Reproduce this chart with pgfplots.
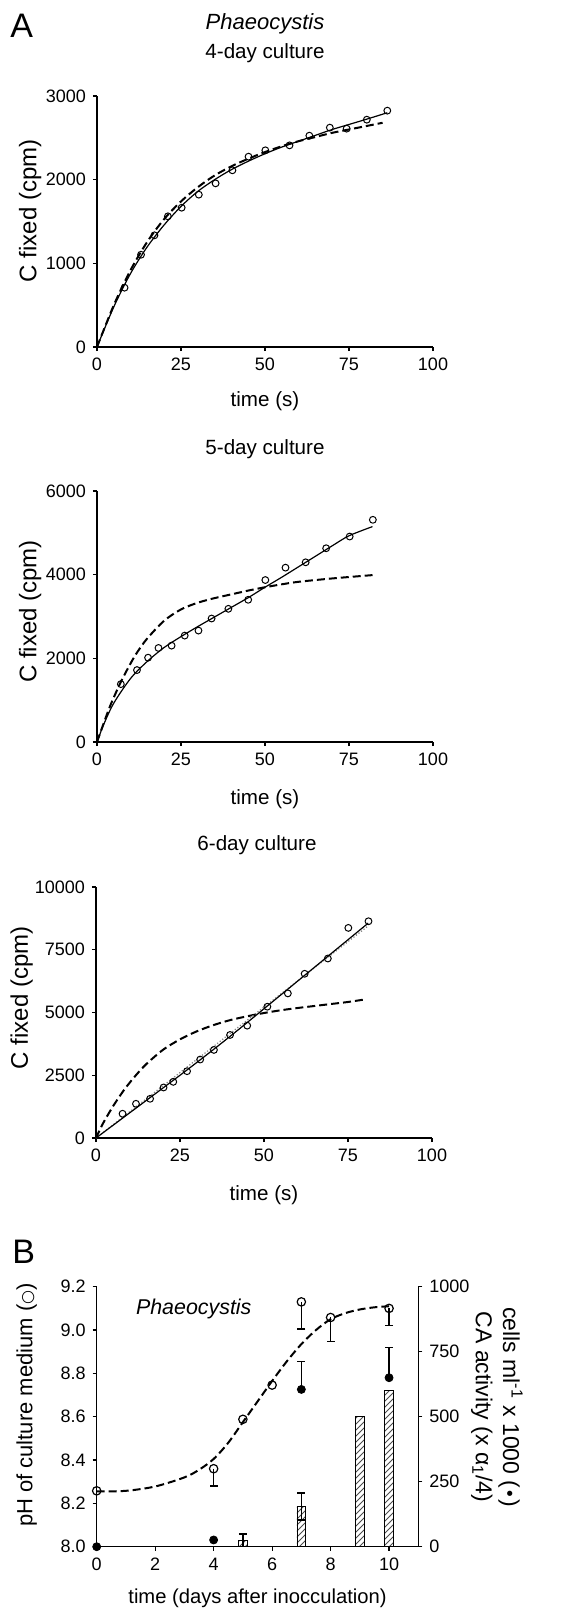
\documentclass[border=0pt]{standalone}
\usepackage{fontspec}
\setmainfont{Liberation Sans}
\newfontfamily\dv{DejaVu Sans}
\usepackage{pgfplots}
\pgfplotsset{compat=1.18}
\usetikzlibrary{patterns}

\pgfplotsset{
  base/.style={
    scale only axis, anchor=south west,
    axis line style={-, line width=0.6pt},
    tick style={line width=0.6pt, black},
    tick align=outside, major tick length=2pt,
    ticklabel style={font=\fontsize{9}{10}\selectfont},
    /pgf/number format/assume math mode=true,
    /pgf/number format/set thousands separator={},
    scaled y ticks=false, scaled x ticks=false,
    xlabel style={anchor=base, font=\fontsize{10.3}{12}\selectfont},
    ylabel style={anchor=center, font=\fontsize{12}{14}\selectfont},
  },
  panelA/.style={
    base, axis x line*=bottom, axis y line*=left, width=168pt, height=125.5pt,
    xmin=0, xmax=100, xtick={0,25,50,75,100}, ymin=0,
    xlabel={time (s)}, ylabel={C fixed (cpm)},
  },
  pts/.style={only marks, mark=o, mark size=1.7pt, mark options={fill=white, line width=0.5pt}, black},
  fit/.style={black, line width=0.6pt, smooth},
  fitd/.style={black, line width=1pt, dash pattern=on 4pt off 2pt, smooth},
}

\begin{document}
\begin{tikzpicture}
\useasboundingbox (0pt,0pt) rectangle (291pt,-806pt);

% ---- panel A, 4-day
\node[anchor=base west, inner sep=0pt, font=\fontsize{17}{19}\selectfont] at (5pt,-18.5pt) {A};
\node[anchor=base, font=\fontsize{11}{13}\selectfont\itshape] at (132.5pt,-14.5pt) {Phaeocystis};
\node[anchor=base, font=\fontsize{10.3}{12}\selectfont] at (132.5pt,-29pt) {4-day culture};
\begin{axis}[panelA, at={(48.5pt,-173.5pt)}, ymax=3000, ytick={0,1000,2000,3000},
  xlabel style={at={(axis description cs:0.5,-0.239)}},
  ylabel style={at={(axis description cs:-0.199,0.542)}}]
  \addplot[fitd] coordinates {
    (0,0) (5,500) (10,920) (15,1260) (20,1530) (25,1740) (30,1910) (35,2050)
    (40,2160) (45,2250) (50,2330) (55,2400) (60,2460) (65,2510) (70,2560)
    (75,2600) (80,2640) (85,2680)
  };
  \addplot[fit] coordinates {
    (0,0) (5,480) (10,880) (15,1200) (20,1460) (25,1680) (30,1860) (35,2000)
    (40,2120) (45,2220) (50,2310) (55,2390) (60,2460) (65,2530) (70,2600)
    (75,2660) (80,2720) (86.4,2800)
  };
  \addplot[pts] coordinates {
    (8.2,709) (13.1,1103) (17.1,1335) (21.1,1562) (25.2,1665) (30.3,1821)
    (35.3,1956) (40.3,2112) (45.1,2275) (50.1,2351) (57.3,2410) (63.2,2526)
    (69.3,2622) (74.3,2610) (80.3,2717) (86.4,2825)
  };
\end{axis}

% ---- panel A, 5-day
\node[anchor=base, font=\fontsize{10.3}{12}\selectfont] at (132.5pt,-227pt) {5-day culture};
\begin{axis}[panelA, at={(48.5pt,-371pt)}, ymax=6000, ytick={0,2000,4000,6000},
  xlabel style={at={(axis description cs:0.5,-0.248)}},
  ylabel style={at={(axis description cs:-0.199,0.52)}}]
  \addplot[fitd] coordinates {
    (0,0) (2,450) (4,880) (7,1420) (10,1880) (12,2150) (15,2480) (20,2900)
    (25,3170) (30,3330) (35,3440) (40,3530) (45,3620) (50,3700) (55,3770)
    (60,3830) (70,3910) (82,3990)
  };
  \addplot[fit] coordinates {
    (0,0) (2,420) (5,930) (10,1520) (15,1930) (20,2260) (25,2520) (30,2760)
    (35,2990) (40,3220) (45,3450) (50,3700) (55,3940) (60,4190) (65,4440)
    (70,4690) (75,4930) (82,5150)
  };
  \addplot[pts] coordinates {
    (7.1,1384) (11.9,1720) (15.2,2016) (18.3,2248) (22.2,2304) (26.1,2544)
    (30.2,2664) (34.1,2952) (39.1,3184) (45.0,3400) (50.1,3872) (56.1,4168)
    (62.1,4296) (68.2,4632) (75.2,4912) (82.1,5312)
  };
\end{axis}

% ---- panel A, 6-day
\node[anchor=base, font=\fontsize{10.3}{12}\selectfont] at (128.5pt,-425pt) {6-day culture};
\begin{axis}[panelA, at={(48pt,-569pt)}, ymax=10000, ytick={0,2500,5000,7500,10000},
  xlabel style={at={(axis description cs:0.5,-0.247)}},
  ylabel style={at={(axis description cs:-0.221,0.558)}}]
  \addplot[fitd] coordinates {
    (0,0) (2,560) (5,1250) (8,1850) (10,2200) (12,2520) (15,2950) (20,3520)
    (25,3930) (30,4250) (35,4500) (40,4700) (45,4850) (50,4980) (55,5090)
    (60,5180) (65,5260) (70,5340) (75,5420) (80,5520)
  };
  \addplot[gray, line width=0.6pt, densely dotted] coordinates {(0,0) (81,8450)};
  \addplot[fit] coordinates {
    (0,0) (5,500) (10,1000) (15,1500) (20,2000) (25,2500) (30,3010) (35,3530)
    (40,4060) (45,4600) (50,5150) (55,5700) (60,6250) (65,6800) (70,7350)
    (75,7900) (81,8560)
  };
  \addplot[pts] coordinates {
    (7.9,967) (11.9,1364) (16.1,1563) (20.1,2013) (23.0,2238) (27.1,2662)
    (31.0,3126) (35.1,3510) (39.9,4106) (45.0,4477) (51.0,5232) (57.1,5762)
    (62.1,6543) (69.0,7152) (75.1,8371) (81.1,8636)
  };
\end{axis}

% ---- panel B
\node[anchor=base west, inner sep=0pt, font=\fontsize{17}{19}\selectfont] at (6pt,-631.5pt) {B};
\begin{axis}[base, at={(48.35pt,-773.35pt)}, width=160.8pt, height=130pt,
  xmin=0, xmax=11, ymin=0, ymax=1000,
  axis x line=none, axis y line*=right,
  ytick={0,250,500,750,1000}]
  \addplot[ybar, bar shift=0pt, bar width=4.4pt, draw=black, line width=0.4pt,
    pattern=north east lines, pattern color=black!70,
    error bars/.cd, y dir=both, y explicit,
    error bar style={line width=0.7pt},
    error mark options={rotate=90, mark size=2pt, line width=0.7pt}]
    coordinates {(5,23) +- (0,26) (7,154) +- (0,52)};
  \addplot[ybar, bar shift=0pt, bar width=4.4pt, draw=black, line width=0.4pt,
    pattern=north east lines, pattern color=black!70]
    coordinates {(9,502) (10,600)};
  \addplot[only marks, mark=*, mark size=2pt, black,
    error bars/.cd, y dir=plus, y explicit,
    error bar style={line width=0.7pt},
    error mark options={rotate=90, mark size=2pt, line width=0.7pt}]
    coordinates {(7,605) += (0,108) (10,650) += (0,117)};
  \addplot[only marks, mark=*, mark size=2pt, black] coordinates {(0,0) (4,26)};
\end{axis}
\begin{axis}[base, at={(48.35pt,-773.35pt)}, width=160.8pt, height=130pt,
  xmin=0, xmax=11, ymin=8, ymax=9.2,
  axis x line*=bottom, axis y line*=left,
  xtick={0,2,4,6,8,10}, ytick={8,8.2,8.4,8.6,8.8,9,9.2},
  yticklabel style={/pgf/number format/.cd, fixed, fixed zerofill, precision=1},
  xlabel={time (days after inocculation)},
  xlabel style={at={(axis description cs:0.5,-0.217)}, font=\fontsize{10.1}{12}\selectfont},
  ylabel={pH of culture medium ({\dv\fontsize{8}{8}\selectfont ○})},
  ylabel style={at={(axis description cs:-0.218,0.545)}, font=\fontsize{11}{13}\selectfont},
  clip=false]
  \addplot[fitd] coordinates {
    (0,8.255) (1,8.258) (2,8.278) (3,8.32) (3.5,8.355) (4,8.405) (4.5,8.48)
    (5,8.575) (5.5,8.67) (6,8.765) (6.5,8.855) (7,8.935) (7.5,9.0) (8,9.05)
    (8.5,9.078) (9,9.095) (9.5,9.105) (10,9.11)
  };
  \addplot[only marks, mark=o, mark size=2.1pt, mark options={fill=white, line width=0.6pt}, black,
    error bars/.cd, y dir=minus, y explicit,
    error bar style={line width=0.7pt},
    error mark options={rotate=90, mark size=2pt, line width=0.7pt}]
    coordinates {(4,8.36) -= (0,0.08) (7,9.13) -= (0,0.125) (8,9.058) -= (0,0.112) (10,9.10) -= (0,0.078)};
  \addplot[only marks, mark=o, mark size=2.1pt, mark options={fill=white, line width=0.6pt}, black]
    coordinates {(0,8.258) (5,8.588) (6,8.746)};
  \node[anchor=base, font=\fontsize{10.7}{12}\selectfont\itshape] at (axis cs:3.32,9.07) {Phaeocystis};
\end{axis}
\node[rotate=-90, align=center, font=\fontsize{11.5}{13.5}\selectfont] at (248.5pt,-703.5pt)
  {cells ml\textsuperscript{-1} x 1000 ({\dv\fontsize{9}{9}\selectfont •})\\CA activity (x α\textsubscript{1}/4)};
\end{tikzpicture}
\end{document}
